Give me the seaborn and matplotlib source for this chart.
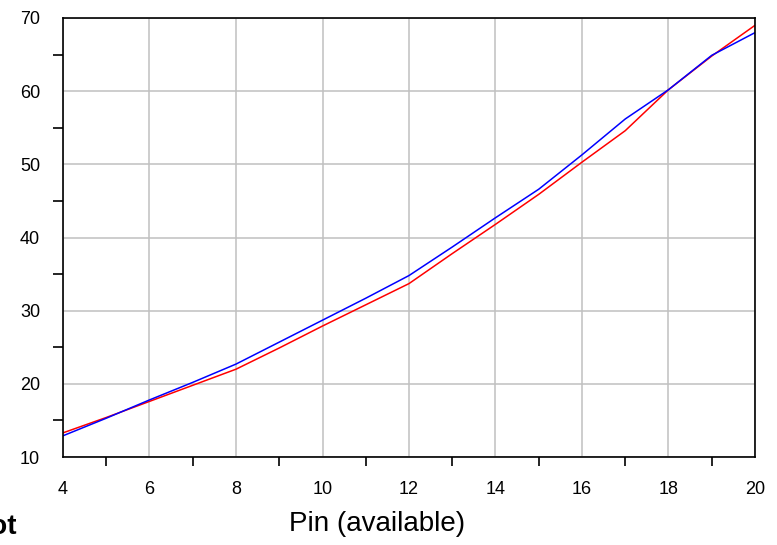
import matplotlib
matplotlib.use("Agg")
import matplotlib.pyplot as plt
from matplotlib.ticker import MultipleLocator
import pandas as pd
import seaborn as sns

# Output power sweep versus available input power
pin = [4, 5, 6, 7, 8, 9, 10, 11, 12, 13, 14, 15, 16, 17, 18, 19, 20]
trace_red = [13.3, 15.4, 17.6, 19.8, 22.0, 24.9, 27.9, 30.8, 33.7, 37.8, 41.8, 45.9, 50.3, 54.6, 60.2, 64.8, 69.0]
trace_blue = [12.9, 15.3, 17.8, 20.2, 22.7, 25.7, 28.7, 31.7, 34.8, 38.7, 42.7, 46.6, 51.3, 56.2, 60.2, 64.9, 68.0]

x_ticks = [4, 6, 8, 10, 12, 14, 16, 18, 20]
y_ticks = [10, 20, 30, 40, 50, 60, 70]

df = pd.DataFrame({
    "Pin": pin * 2,
    "Pout": trace_red + trace_blue,
    "trace": ["red"] * len(pin) + ["blue"] * len(pin),
})

sns.set_theme(style="white")
plt.rcParams["font.family"] = ["Liberation Sans", "DejaVu Sans"]

fig = plt.figure(figsize=(7.77, 5.45), dpi=100)
ax = fig.add_axes([63 / 777, 88 / 545, 692 / 777, 439 / 545])

sns.lineplot(data=df, x="Pin", y="Pout", hue="trace",
             palette={"red": "#ff0000", "blue": "#0000ff"},
             linewidth=1.1, legend=False, ax=ax, zorder=3)

ax.set_xlim(4, 20)
ax.set_ylim(10, 70)
ax.set_xticks(x_ticks)
ax.set_yticks(y_ticks)
ax.xaxis.set_minor_locator(MultipleLocator(1))
ax.yaxis.set_minor_locator(MultipleLocator(5))

ax.grid(True, which="major", color="#c0c0c0", linewidth=1.1, zorder=1)
for s in ax.spines.values():
    s.set_color("black")
    s.set_linewidth(1.2)
    s.set_zorder(4)

ax.tick_params(axis="x", which="major", direction="out", length=11.5, width=1.2,
               color="black", pad=6, labelcolor="black")
ax.tick_params(axis="x", which="minor", direction="out", length=6.5, width=1.2,
               color="black", bottom=True)
ax.tick_params(axis="y", which="major", direction="out", length=14.4, width=1.2,
               color="black", pad=2, labelcolor="black")
ax.tick_params(axis="y", which="minor", direction="out", length=7.2, width=1.2,
               color="black", left=True)
for lab in ax.get_xticklabels() + ax.get_yticklabels():
    lab.set_fontsize(13)

ax.set_ylabel("")
ax.set_xlabel("Pin (available)", fontsize=20, color="black")
ax.xaxis.set_label_coords((377.5 - 63) / 692, (457 - 511) / 439)

fig.text(17 / 777, 1 - 527 / 545, "Plot", fontsize=20, fontweight="bold",
         ha="right", va="center", color="black")

fig.savefig("out.png", dpi=100)
